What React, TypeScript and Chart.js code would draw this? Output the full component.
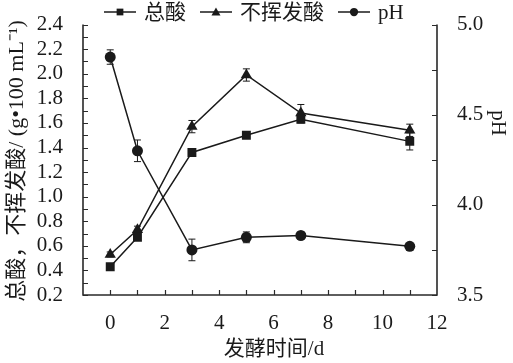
import React, { useEffect, useRef } from "react";
import { Chart, registerables } from "chart.js";

Chart.register(...registerables);

// ---- data ----
const days = [0, 1, 3, 5, 7, 11];
const totalAcid = [0.43, 0.67, 1.36, 1.5, 1.63, 1.45];
const totalAcidErr = [0.02, 0.02, 0.03, 0.02, 0.03, 0.07];
const volatileAcid = [0.53, 0.73, 1.57, 1.99, 1.68, 1.54];
const volatileAcidErr = [0.02, 0.03, 0.05, 0.05, 0.07, 0.05];
const phValues = [4.82, 4.3, 3.75, 3.82, 3.83, 3.77];
const phErr = [0.04, 0.06, 0.06, 0.03, 0.01, 0.01];

const seriesLabels = ["总酸", "不挥发酸", "pH"];
const xTicks = [0, 2, 4, 6, 8, 10, 12];
const leftTicks = [0.2, 0.4, 0.6, 0.8, 1.0, 1.2, 1.4, 1.6, 1.8, 2.0, 2.2, 2.4];
const rightTicks = [3.5, 4.0, 4.5, 5.0];
const xTitle = "发酵时间/d";
const leftTitle = "总酸，不挥发酸/ (g•100 mL⁻¹)";
const rightTitle = "pH";

const FONT = '"Liberation Serif", "Times New Roman", "Noto Sans CJK SC", serif';
const INK = "#1a1a1a";

const W = 513;
const H = 363;
const AREA = { left: 83, right: 437, top: 20, bottom: 295 };

const errorsByDataset = [totalAcidErr, volatileAcidErr, phErr];
const styles = ["rect", "triangle", "circle"] as const;

function drawMarker(ctx: CanvasRenderingContext2D, style: string, x: number, y: number, k: number) {
  ctx.save();
  ctx.fillStyle = INK;
  ctx.beginPath();
  if (style === "rect") {
    ctx.rect(x - 4.5 * k, y - 4.5 * k, 9 * k, 9 * k);
  } else if (style === "triangle") {
    ctx.moveTo(x, y - 6 * k);
    ctx.lineTo(x + 6 * k, y + 4.5 * k);
    ctx.lineTo(x - 6 * k, y + 4.5 * k);
    ctx.closePath();
  } else {
    ctx.arc(x, y, 5.5 * k, 0, Math.PI * 2);
  }
  ctx.fill();
  ctx.restore();
}

const customPlugin = {
  id: "custom",
  beforeDatasetsDraw(chart: any) {
    const ctx: CanvasRenderingContext2D = chart.ctx;
    const xs = chart.scales.x;
    ctx.save();
    ctx.strokeStyle = INK;
    ctx.lineWidth = 1;
    chart.data.datasets.forEach((ds: any, i: number) => {
      const ys = chart.scales[ds.yAxisID];
      const errs = errorsByDataset[i];
      ds.data.forEach((p: any, j: number) => {
        const e = errs[j];
        if (!e) return;
        const px = xs.getPixelForValue(p.x);
        const y1 = ys.getPixelForValue(p.y - e);
        const y2 = ys.getPixelForValue(p.y + e);
        ctx.beginPath();
        ctx.moveTo(px, y1);
        ctx.lineTo(px, y2);
        ctx.moveTo(px - 3.5, y1);
        ctx.lineTo(px + 3.5, y1);
        ctx.moveTo(px - 3.5, y2);
        ctx.lineTo(px + 3.5, y2);
        ctx.stroke();
      });
    });
    ctx.restore();
  },
  afterDraw(chart: any) {
    const ctx: CanvasRenderingContext2D = chart.ctx;
    const { left, right, top, bottom } = chart.chartArea;
    const xs = chart.scales.x;
    const yl = chart.scales.y;
    const yr = chart.scales.y2;
    ctx.save();
    // axis lines
    ctx.strokeStyle = "#2a2a2a";
    ctx.lineWidth = 1.6;
    ctx.beginPath();
    ctx.moveTo(left, top);
    ctx.lineTo(left, bottom);
    ctx.lineTo(right, bottom);
    ctx.lineTo(right, top);
    ctx.stroke();
    // ticks
    ctx.lineWidth = 1.2;
    ctx.beginPath();
    for (let v = 0.2; v <= 2.4001; v += 0.1) {
      const y = Math.round(yl.getPixelForValue(v)) + 0.5;
      ctx.moveTo(left, y);
      ctx.lineTo(left + 5, y);
    }
    for (let v = 3.5; v <= 5.0001; v += 0.25) {
      const y = Math.round(yr.getPixelForValue(v)) + 0.5;
      ctx.moveTo(right, y);
      ctx.lineTo(right - 5, y);
    }
    for (let v = 0; v <= 11; v += 1) {
      const x = Math.round(xs.getPixelForValue(v)) + 0.5;
      ctx.moveTo(x, bottom);
      ctx.lineTo(x, bottom - 5);
    }
    ctx.stroke();

    // legend
    ctx.font = `21px ${FONT}`;
    ctx.fillStyle = INK;
    ctx.textBaseline = "middle";
    ctx.textAlign = "left";
    let x = 104;
    const ly = 12;
    seriesLabels.forEach((label, i) => {
      ctx.strokeStyle = INK;
      ctx.lineWidth = 1.5;
      ctx.beginPath();
      ctx.moveTo(x, ly);
      ctx.lineTo(x + 32, ly);
      ctx.stroke();
      drawMarker(ctx, styles[i], x + 16, ly, 0.75);
      x += 32 + 8;
      ctx.fillText(label, x, ly + 1);
      x += ctx.measureText(label).width + 14;
    });

    // titles
    ctx.font = `21px ${FONT}`;
    ctx.textAlign = "center";
    ctx.textBaseline = "middle";
    ctx.fillText(xTitle, 274, 349);

    ctx.save();
    ctx.translate(17, 161);
    ctx.rotate(-Math.PI / 2);
    ctx.font = `22px ${FONT}`;
    ctx.fillText(leftTitle, 0, 0);
    ctx.restore();

    ctx.save();
    ctx.translate(498, 123);
    ctx.rotate(Math.PI / 2);
    ctx.font = `21px ${FONT}`;
    ctx.fillText(rightTitle, 0, 0);
    ctx.restore();

    ctx.restore();
  },
};

export default function App() {
  const ref = useRef<HTMLCanvasElement | null>(null);

  useEffect(() => {
    if (!ref.current) return;
    const mk = (vals: number[]) => days.map((d, i) => ({ x: d, y: vals[i] }));
    const tickFont = { family: FONT, size: 21 };
    const chart = new Chart(ref.current, {
      type: "line",
      data: {
        datasets: [
          {
            label: seriesLabels[0],
            data: mk(totalAcid),
            yAxisID: "y",
            borderColor: INK,
            backgroundColor: INK,
            borderWidth: 1.5,
            pointStyle: "rect",
            pointRadius: 6.3,
            pointBackgroundColor: INK,
            pointBorderWidth: 0,
            tension: 0,
          },
          {
            label: seriesLabels[1],
            data: mk(volatileAcid),
            yAxisID: "y",
            borderColor: INK,
            backgroundColor: INK,
            borderWidth: 1.5,
            pointStyle: "triangle",
            pointRadius: 6.5,
            pointBackgroundColor: INK,
            pointBorderWidth: 0,
            tension: 0,
          },
          {
            label: seriesLabels[2],
            data: mk(phValues),
            yAxisID: "y2",
            borderColor: INK,
            backgroundColor: INK,
            borderWidth: 1.5,
            pointStyle: "circle",
            pointRadius: 5.5,
            pointBackgroundColor: INK,
            pointBorderWidth: 0,
            tension: 0,
          },
        ],
      },
      options: {
        animation: false,
        responsive: false,
        devicePixelRatio: 1,
        layout: { padding: { top: AREA.top, left: 0, right: 0, bottom: 0 } },
        plugins: { legend: { display: false }, tooltip: { enabled: false }, title: { display: false } },
        scales: {
          x: {
            type: "linear",
            min: -1,
            max: 12,
            grid: { display: false },
            border: { display: false },
            afterBuildTicks: (s: any) => {
              s.ticks = xTicks.map((v) => ({ value: v }));
            },
            afterFit: (s: any) => {
              s.height = H - AREA.bottom;
            },
            ticks: {
              font: tickFont,
              color: INK,
              padding: 8,
              maxRotation: 0,
              autoSkip: false,
              callback: (v: any) => String(v),
            },
          },
          y: {
            type: "linear",
            position: "left",
            min: 0.2,
            max: 2.4,
            grid: { display: false },
            border: { display: false },
            afterBuildTicks: (s: any) => {
              s.ticks = leftTicks.map((v) => ({ value: v }));
            },
            afterFit: (s: any) => {
              s.width = AREA.left;
            },
            ticks: {
              font: tickFont,
              color: INK,
              padding: 12,
              autoSkip: false,
              callback: (v: any) => Number(v).toFixed(1),
            },
          },
          y2: {
            type: "linear",
            position: "right",
            min: 3.5,
            max: 5.0,
            grid: { display: false },
            border: { display: false },
            afterBuildTicks: (s: any) => {
              s.ticks = rightTicks.map((v) => ({ value: v }));
            },
            afterFit: (s: any) => {
              s.width = W - AREA.right;
            },
            ticks: {
              font: tickFont,
              color: INK,
              padding: 12,
              autoSkip: false,
              callback: (v: any) => Number(v).toFixed(1),
            },
          },
        },
      },
      plugins: [customPlugin],
    } as any);
    return () => chart.destroy();
  }, []);

  return (
    <div style={{ position: "fixed", left: 0, top: 0, width: W, height: H, background: "#fff" }}>
      <canvas ref={ref} width={W} height={H} style={{ width: W, height: H, display: "block" }} />
    </div>
  );
}
